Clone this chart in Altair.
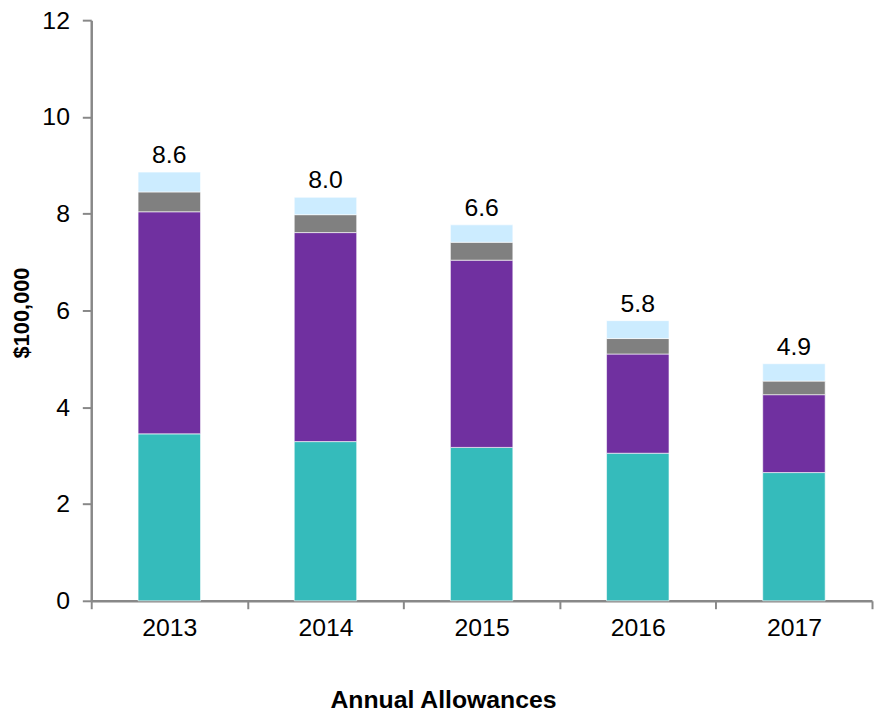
import altair as alt
import pandas as pd

years = ["2013", "2014", "2015", "2016", "2017"]
series = ["Series 1", "Series 2", "Series 3", "Series 4"]
s1 = [3.45, 3.29, 3.17, 3.05, 2.65]
s2 = [4.59, 4.32, 3.87, 2.05, 1.61]
s3 = [0.41, 0.37, 0.37, 0.32, 0.28]
s4 = [0.41, 0.36, 0.36, 0.37, 0.36]
labels = ["8.6", "8.0", "6.6", "5.8", "4.9"]
colors = ["#35BBBB", "#7030A0", "#808080", "#CCECFF"]

rows = []
for i, y in enumerate(years):
    for j, (name, vals) in enumerate(zip(series, [s1, s2, s3, s4])):
        rows.append({"year": y, "series": name, "order": j, "value": vals[i]})
df = pd.DataFrame(rows)

tot = pd.DataFrame({
    "year": years,
    "total": [a + b + c + d for a, b, c, d in zip(s1, s2, s3, s4)],
    "label": labels,
})

xscale = alt.Scale(domain=years, paddingInner=0, paddingOuter=0)
yscale = alt.Scale(domain=[0, 12])

bars = alt.Chart(df).mark_bar(stroke="white", strokeWidth=0.6,
                              width=alt.RelativeBandSize(0.4)).encode(
    x=alt.X("year:N", scale=xscale, sort=years,
            axis=alt.Axis(title="Annual Allowances", labelAngle=0, tickBand="extent",
                          labelFontSize=25, labelPadding=7, tickSize=8,
                          titleFontSize=25, titleFontWeight="bold",
                          titleX=355, titleY=100, titleBaseline="middle")),
    y=alt.Y("value:Q", stack="zero", scale=yscale,
            axis=alt.Axis(title="$100,000", values=[0, 2, 4, 6, 8, 10, 12],
                          grid=False, labelFontSize=25, labelPadding=13, tickSize=9,
                          titleFontSize=22, titleFontWeight="bold",
                          titleX=-70, titleY=295, titleAngle=-90,
                          titleBaseline="middle", titleAlign="center")),
    color=alt.Color("series:N", scale=alt.Scale(domain=series, range=colors), legend=None),
    order=alt.Order("order:Q"),
)

text = alt.Chart(tot).mark_text(baseline="bottom", dy=-4, fontSize=25, color="black").encode(
    x=alt.X("year:N", scale=xscale, sort=years),
    y=alt.Y("total:Q", scale=yscale),
    text="label:N",
)

chart = alt.layer(bars, text).properties(
    width=788, height=586,
    autosize=alt.AutoSizeParams(type="none"),
    padding={"left": 84, "top": 9, "right": 2, "bottom": 114},
).configure_axis(
    domainColor="#888888", domainWidth=2.5, tickColor="#888888", tickWidth=2,
    labelColor="black", titleColor="black", labelFont="Liberation Sans",
    titleFont="Liberation Sans",
).configure_view(stroke=None)

chart.save("out.html", embed_options={"renderer": "svg", "actions": False})
